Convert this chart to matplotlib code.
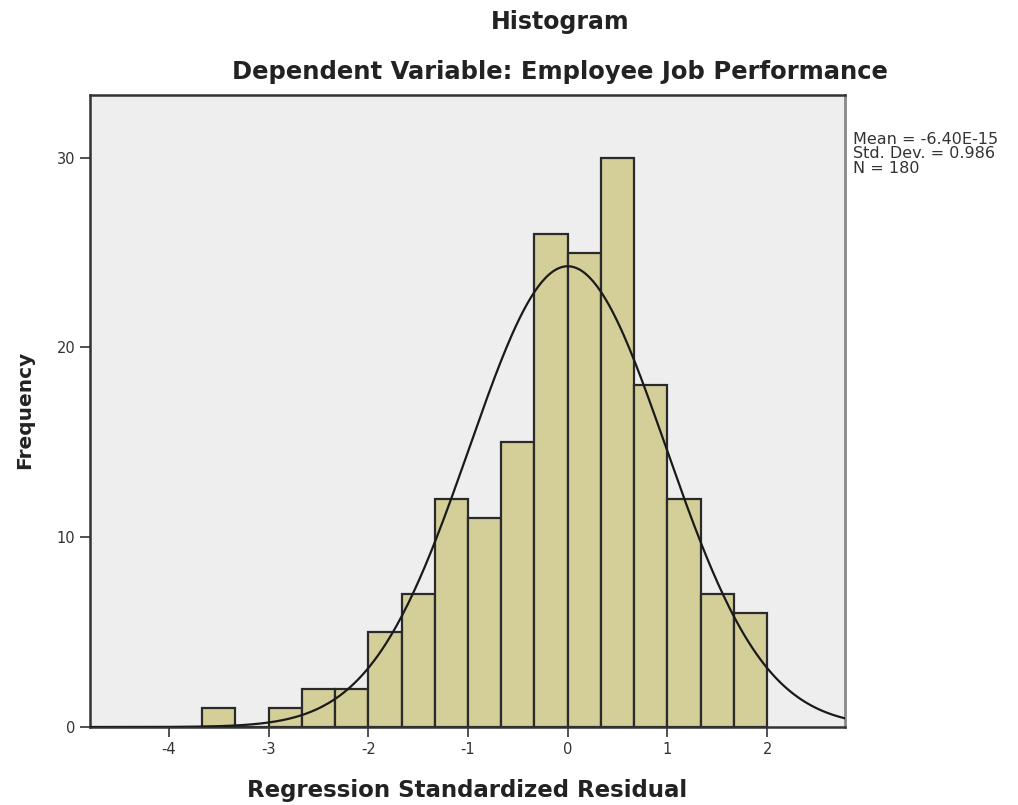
import numpy as np
import matplotlib
matplotlib.use("Agg")
import matplotlib.pyplot as plt

plt.rcParams['font.family'] = ['DejaVu Sans']

# Data
bin_width = 1 / 3
bin_left_edges = [-11/3, -10/3, -3.0, -8/3, -7/3, -2.0, -5/3, -4/3, -1.0, -2/3, -1/3,
                  0.0, 1/3, 2/3, 1.0, 4/3, 5/3]
frequencies = [1, 0, 1, 2, 2, 5, 7, 12, 11, 15, 26, 25, 30, 18, 12, 7, 6]
mean_val = -6.40e-15
std_dev = 0.986
n_obs = 180
x_ticks = [-4, -3, -2, -1, 0, 1, 2]
y_ticks = [0, 10, 20, 30]

fig = plt.figure(figsize=(10.18, 8.05), dpi=100)
ax = fig.add_axes([90/1018, 1 - 727/805, (845-90)/1018, (727-95)/805])
ax.set_facecolor('#EEEEEE')

ax.bar(bin_left_edges, frequencies, width=bin_width, align='edge',
       color='#D4CF98', edgecolor='#2a2a2a', linewidth=1.6, zorder=2)

xlim = (-4.79, 2.78)
xs = np.linspace(xlim[0], xlim[1], 400)
ys = n_obs * bin_width / (std_dev * np.sqrt(2*np.pi)) * np.exp(-0.5*((xs-mean_val)/std_dev)**2)
ax.plot(xs, ys, color='#1a1a1a', linewidth=1.6, zorder=3)

ax.set_xlim(*xlim)
ax.set_ylim(0, 33.3)
ax.set_xticks(x_ticks)
ax.set_xticklabels([str(t) for t in x_ticks])
ax.set_yticks(y_ticks)
ax.tick_params(axis='both', direction='out', length=7, width=1.2, color='#333333',
               labelsize=10.5, labelcolor='#333333')
for side in ['left', 'top', 'bottom']:
    ax.spines[side].set_color('#333333')
    ax.spines[side].set_linewidth(1.8)
ax.spines['right'].set_color('#888888')
ax.spines['right'].set_linewidth(2.0)

xl = ax.set_xlabel('Regression Standardized Residual', fontsize=16.5, fontweight='bold',
                   color='#222222')
xl.set_va('center')
ax.xaxis.set_label_coords((467-90)/755, (727-790)/632)
yl = ax.set_ylabel('Frequency', fontsize=14.5, fontweight='bold', color='#222222')
yl.set_va('center')
ax.yaxis.set_label_coords((25-90)/755, (727-410)/632)

fig.text(560/1018, 1 - 22/805, 'Histogram', ha='center', va='center',
         fontsize=17, fontweight='bold', color='#222222')
fig.text(560/1018, 1 - 72/805, 'Dependent Variable: Employee Job Performance',
         ha='center', va='center', fontsize=17.5, fontweight='bold', color='#222222')

fig.text(853/1018, 1 - 132/805,
         f'Mean = {mean_val:.2E}\nStd. Dev. = {std_dev:.3f}\nN = {n_obs}',
         ha='left', va='top', fontsize=11.5, color='#333333', linespacing=0.95)

fig.savefig('out.png', dpi=100, facecolor='white')
